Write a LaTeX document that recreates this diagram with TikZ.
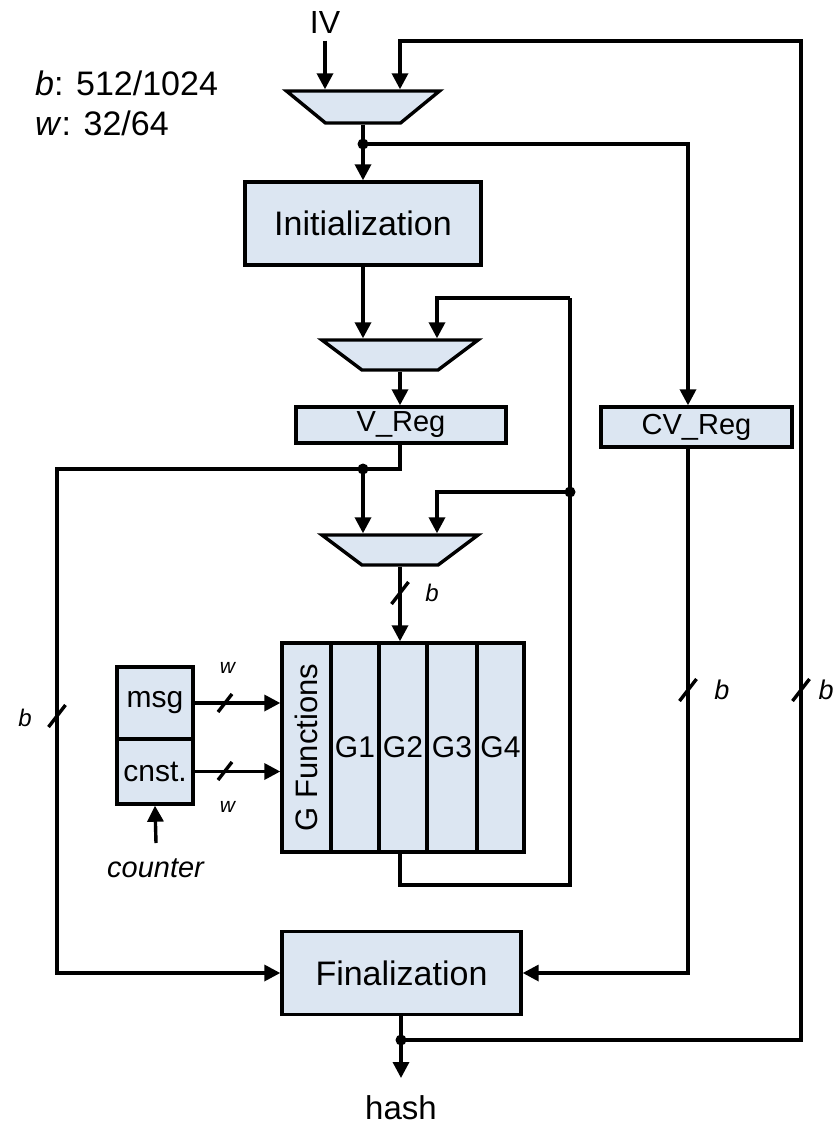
\documentclass[tikz,border=0pt]{standalone}
\usepackage{fontspec}
\setmainfont{Liberation Sans}
\usepackage{graphicx}
\usetikzlibrary{arrows.meta}
\definecolor{boxfill}{HTML}{DCE6F2}
\begin{document}
\begin{tikzpicture}[x=1pt,y=-1pt,
  lw/.style={line width=3.4pt},
  conn/.style={line width=3.4pt,-{Triangle[length=16pt,width=16pt]}},
  box/.style={draw,line width=3.4pt,fill=boxfill,inner sep=0pt},
  muxs/.style={draw,line width=3.4pt,fill=boxfill,line join=miter},
  anc/.style={inner sep=0pt,outer sep=1.7pt},
  dot/.style={circle,fill=black,inner sep=0pt,minimum size=11pt},
  fs/.style={font=\fontsize{#1}{#1}\selectfont},
  lbl/.style={inner sep=0pt},
]
\useasboundingbox (0,0) rectangle (835,1125);

% legend
\node[lbl,fs=34,anchor=base west] (bw) at (35,95) {\textit{b}: 512/1024};
\node[lbl,fs=34,anchor=base west] (ww) at (35,135) {\textit{w}: 32/64};
\node[lbl,fs=32] (iv) at (325,22.5) {IV};

% muxes
\draw[muxs,shift={(363,107)}] (-76.5,-16) -- (76.5,-16) -- (37.5,16) -- (-37.5,16) -- cycle;
\node[anc,minimum width=153pt,minimum height=32pt] (m1) at (363,107) {};
\draw[muxs,shift={(400,355)}] (-78,-15) -- (78,-15) -- (38,15) -- (-38,15) -- cycle;
\node[anc,minimum width=156pt,minimum height=30pt] (m2) at (400,355) {};
\draw[muxs,shift={(400,550)}] (-78,-15) -- (78,-15) -- (38,15) -- (-38,15) -- cycle;
\node[anc,minimum width=156pt,minimum height=30pt] (m3) at (400,550) {};

% boxes
\node[box,minimum width=236pt,minimum height=83pt,fs=34] (init) at (363,223.5) {Initialization};
\node[box,minimum width=210pt,minimum height=36pt,fs=29] (vreg) at (401,425) {V\_Reg};
\node[box,minimum width=191pt,minimum height=40pt,fs=29] (cvreg) at (696.5,427) {CV\_Reg};
\node[box,minimum width=239pt,minimum height=83pt,fs=34] (fin) at (401.5,973) {Finalization};
\node[box,minimum width=76pt,minimum height=72pt,fs=30] (msg) at (155,703) {msg};
\node[box,minimum width=76pt,minimum height=65pt,fs=30] (cnst) at (155,771.5) {cnst.};

% G block
\node[box,minimum width=49pt,minimum height=209pt,fs=31] (gf) at (306.5,747.5) {\rotatebox{90}{G Functions}};
\node[box,minimum width=48pt,minimum height=209pt,fs=30] (g1) at (355,747.5) {G1};
\node[box,minimum width=48pt,minimum height=209pt,fs=30] (g2) at (403,747.5) {G2};
\node[box,minimum width=50pt,minimum height=209pt,fs=30] (g3) at (452,747.5) {G3};
\node[box,minimum width=47pt,minimum height=209pt,fs=30] (g4) at (500.5,747.5) {G4};
\node[anc,minimum width=242pt,minimum height=209pt] (gblk) at (403,747.5) {};

% outputs / inputs
\node[lbl,fs=33,anchor=north] (hash) at (401,1095) {hash};
\node[lbl,fs=29,anchor=base] (counter) at (156,877) {\textit{counter}};
\coordinate (cin) at (156,843);

% helper coordinates
\coordinate (rtop) at (801,41);
\coordinate (lc1) at (57,469);
\coordinate (lc2) at (570,885);
\coordinate (lc3) at (570,298);

% junction dots
\node[dot] (d1) at (363,144) {};
\node[dot] (d2) at (363,469) {};
\node[dot] (d3) at (570,492) {};
\node[dot] (d4) at (401,1040) {};

% connectors
\draw[conn] ([yshift=-7pt]iv.south) -- (iv.south |- m1.north);
\draw[conn] (d4.center) -| (rtop) -| ([xshift=37pt]m1.north);
\draw[conn] (m1.south) -- (init.north);
\draw[conn] (d1.center) -| ([xshift=-8.5pt]cvreg.north);
\draw[conn] (init.south) -- (init.south |- m2.north);
\draw[conn] (m2.south) -- (m2.south |- vreg.north);
\draw[conn] (vreg.south -| m2.south) |- (lc1) |- (fin.west);
\draw[conn] (d2.center) -- (d2.center |- m3.north);
\draw[conn] (d3.center) -| ([xshift=37pt]m3.north);
\draw[lw] (gblk.south -| m3.south) |- (lc2) -- (lc3);
\draw[conn] (lc3) -| ([xshift=37pt]m2.north);
\draw[conn] (m3.south) -- (m3.south |- gblk.north);
\draw[conn] ([xshift=-8.5pt]cvreg.south) |- (fin.east);
\draw[conn] (fin.south -| d4) -- ([yshift=17pt]hash.north);
\draw[conn] (msg.east) -- (msg.east -| gblk.west);
\draw[conn] (cnst.east) -- (cnst.east -| gblk.west);
\draw[conn] (cin) -- (cnst.south);

% bus slashes
\coordinate (s1) at (400,593);
\coordinate (s2) at (57,716);
\coordinate (s3) at (688,690);
\coordinate (s4) at (801,690);
\coordinate (s5) at (225,703);
\coordinate (s6) at (225,771);
\foreach \s in {s1,s2,s3,s4}
  \draw[lw] ([shift={(-8.5,11)}]\s) -- ([shift={(8.5,-11)}]\s);
\foreach \s in {s5,s6}
  \draw[lw] ([shift={(-7,9)}]\s) -- ([shift={(7,-9)}]\s);

% bus labels
\node[lbl,fs=24] (bl1) at (432,593) {\textit{b}};
\node[lbl,fs=24] (bl2) at (25,718) {\textit{b}};
\node[lbl,fs=27] (bl3) at (722,690) {\textit{b}};
\node[lbl,fs=27] (bl4) at (826,690) {\textit{b}};
\node[lbl,fs=21] (wl1) at (228,668) {\textit{w}};
\node[lbl,fs=21] (wl2) at (228,807) {\textit{w}};
\end{tikzpicture}
\end{document}
